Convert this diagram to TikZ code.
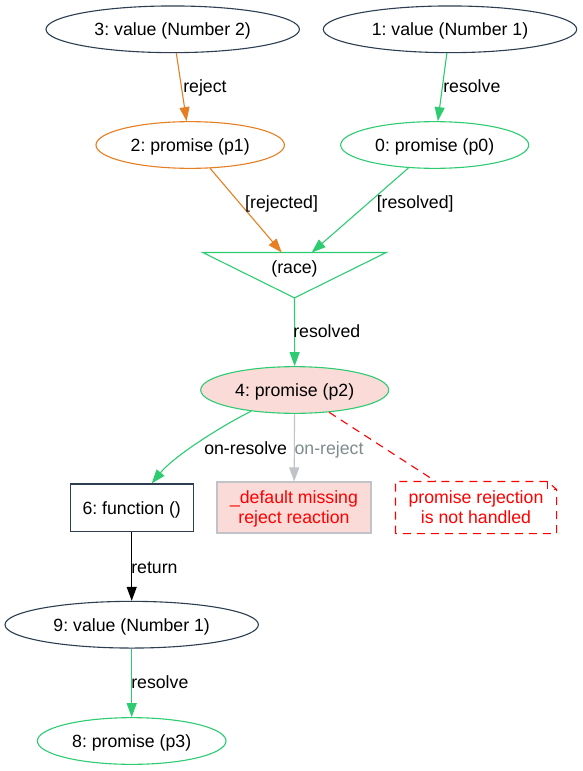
\documentclass[tikz,border=0pt]{standalone}
\usepackage{fontspec}
\setmainfont{Liberation Sans}
\usetikzlibrary{shapes.geometric,arrows.meta}
\definecolor{slate}{HTML}{2C3E50}
\definecolor{pgreen}{HTML}{2ECC71}
\definecolor{porange}{HTML}{E67E22}
\definecolor{pfill}{HTML}{FADBD8}
\definecolor{silver}{HTML}{C0C4C8}
\definecolor{labgray}{HTML}{7F8C8D}
\definecolor{pred}{HTML}{FF0000}
% struts that fix the first baseline and the last depth of two-line labels
\newcommand{\hiline}{\rule{0pt}{15.9pt}}
\newcommand{\loline}{\rule[-3.7pt]{0pt}{3.7pt}}
\frenchspacing
\begin{document}
\begin{tikzpicture}[x=1pt,y=-1pt,
  every node/.style={font=\fontsize{17.7}{19.4}\selectfont\frenchspacing, inner sep=0pt},
  txt/.style={text height=12.7pt, text depth=0pt},
  oval/.style={ellipse, draw, line width=1.1pt, minimum height=46.7pt, txt},
  boxnode/.style={rectangle, line width=1.1pt, align=center},
  link/.style={line width=1.1pt, -{Triangle[length=14pt,width=10pt]}},
  dashline/.style={pred, line width=1.1pt, dash pattern=on 8pt off 6pt},
  lbl/.style={txt, anchor=west},
]
\fill[white] (0,0) rectangle (582,771);
\useasboundingbox (0,0) rectangle (582,771);

% values and promises
\node[oval, draw=slate, minimum width=253.4pt] (n3) at (172.7,29.3) {3: value (Number 2)};
\node[oval, draw=slate, minimum width=253.4pt] (n1) at (450,29.3) {1: value (Number 1)};
\node[oval, draw=porange, minimum width=188.4pt] (n2) at (190.2,145) {2: promise (p1)};
\node[oval, draw=pgreen, minimum width=188pt] (n0) at (434.7,145) {0: promise (p0)};

% race combinator (downward triangle)
\node[rectangle, minimum width=183pt, minimum height=45pt, text height=12.7pt, text depth=16.9pt] (race) at (294.5,275.2) {(race)};
\draw[pgreen, line width=1.1pt, line join=miter] (race.north west) -- (race.north east) -- (race.south) -- cycle;

\node[oval, draw=pgreen, fill=pfill, minimum width=188pt] (n4) at (294.7,390) {4: promise (p2)};
\node[boxnode, draw=slate, minimum width=123.3pt, minimum height=47.7pt, txt] (n6) at (131.7,507.8) {6: function ()};
\node[boxnode, draw=silver, fill=pfill, text=pred, minimum width=154pt, minimum height=51pt] (def) at (294,507.5) {\hiline\_default missing\\reject reaction\loline};
\node[boxnode, text=pred, minimum width=160pt, minimum height=51pt] (note) at (476,507.5) {\hiline promise rejection\\is not handled\loline};
\draw[dashline] (note.south west) -- (note.north west) -- ([xshift=-9pt]note.north east)
  -- ([yshift=-8pt]note.north east) -- (note.south east) -- cycle;
\draw[dashline] ([xshift=-9pt]note.north east) -- ([xshift=-9pt,yshift=-8pt]note.north east)
  -- ([yshift=-8pt]note.north east);
\node[oval, draw=slate, minimum width=253.4pt] (n9) at (131.7,624.7) {9: value (Number 1)};
\node[oval, draw=pgreen, minimum width=188.6pt] (n8) at (131.7,741) {8: promise (p3)};

% connectors
\draw[link, porange] (n3) -- (n2);
\draw[link, pgreen] (n1) -- (n0);
\draw[link, porange] (n2) -- ([xshift=-12.8pt]race.north);
\draw[link, pgreen] (n0) -- ([xshift=17.2pt]race.north);
\draw[link, pgreen] (race.south) -- (n4);
\draw[link, pgreen] (n4) .. controls (225,424) and (175,455) .. (n6);
\draw[link, silver] (n4) -- (def);
\draw[dashline] (n4) -- (note);
\draw[link, black] (n6) -- (n9);
\draw[link, pgreen] (n9) -- (n8);

% connector labels
\node[lbl] (l1) at (183.1,86) {reject};
\node[lbl] (l2) at (443.1,86) {resolve};
\node[lbl] (l3) at (245,201.7) {[rejected]};
\node[lbl] (l4) at (376.6,201.7) {[resolved]};
\node[lbl] (l5) at (293.1,331) {resolved};
\node[lbl] (l6) at (204.1,448.3) {on-resolve};
\node[lbl, text=labgray] (l7) at (294.4,448.3) {on-reject};
\node[lbl] (l8) at (131.1,566.7) {return};
\node[lbl] (l9) at (131.1,681.7) {resolve};
\end{tikzpicture}
\end{document}
